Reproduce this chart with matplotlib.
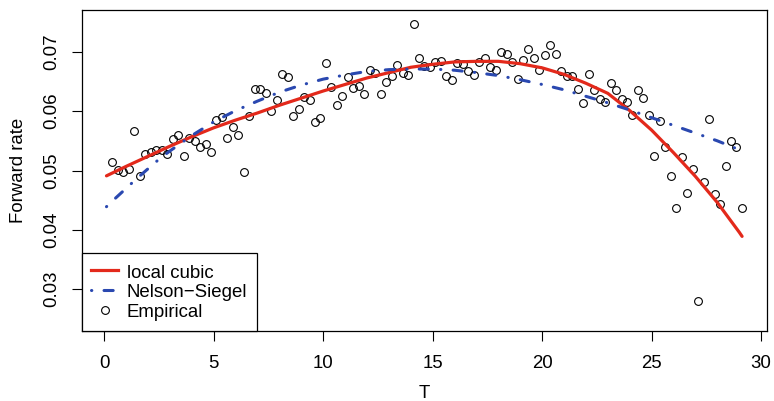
import numpy as np
import matplotlib
matplotlib.use("Agg")
import matplotlib.pyplot as plt
from matplotlib.lines import Line2D

plt.rcParams['font.family'] = ['Liberation Sans', 'DejaVu Sans']

# maturities of the empirical forward rates
T = [0.375, 0.625, 0.875, 1.125, 1.375, 1.625, 1.875, 2.125, 2.375, 2.625,
     2.875, 3.125, 3.375, 3.625, 3.875, 4.125, 4.375, 4.625, 4.875, 5.125,
     5.375, 5.625, 5.875, 6.125, 6.375, 6.625, 6.875, 7.125, 7.375, 7.625,
     7.875, 8.125, 8.375, 8.625, 8.875, 9.125, 9.375, 9.625, 9.875, 10.125,
     10.375, 10.625, 10.875, 11.125, 11.375, 11.625, 11.875, 12.125, 12.375, 12.625,
     12.875, 13.125, 13.375, 13.625, 13.875, 14.125, 14.375, 14.625, 14.875, 15.125,
     15.375, 15.625, 15.875, 16.125, 16.375, 16.625, 16.875, 17.125, 17.375, 17.625,
     17.875, 18.125, 18.375, 18.625, 18.875, 19.125, 19.375, 19.625, 19.875, 20.125,
     20.375, 20.625, 20.875, 21.125, 21.375, 21.625, 21.875, 22.125, 22.375, 22.625,
     22.875, 23.125, 23.375, 23.625, 23.875, 24.125, 24.375, 24.625, 24.875, 25.125,
     25.375, 25.625, 25.875, 26.125, 26.375, 26.625, 26.875, 27.125, 27.375, 27.625,
     27.875, 28.125, 28.375, 28.625, 28.875, 29.125]

empirical = [0.0514, 0.0501, 0.0497, 0.0503, 0.0566, 0.0490, 0.0528, 0.0531, 0.0535, 0.0535,
             0.0528, 0.0553, 0.0560, 0.0524, 0.0555, 0.0550, 0.0539, 0.0545, 0.0531, 0.0585,
             0.0590, 0.0555, 0.0574, 0.0560, 0.0498, 0.0592, 0.0638, 0.0638, 0.0630, 0.0601,
             0.0619, 0.0662, 0.0657, 0.0592, 0.0603, 0.0624, 0.0619, 0.0582, 0.0588, 0.0681,
             0.0641, 0.0610, 0.0625, 0.0657, 0.0639, 0.0642, 0.0629, 0.0670, 0.0665, 0.0629,
             0.0649, 0.0660, 0.0677, 0.0664, 0.0661, 0.0747, 0.0690, 0.0676, 0.0674, 0.0683,
             0.0684, 0.0659, 0.0653, 0.0681, 0.0680, 0.0667, 0.0661, 0.0683, 0.0689, 0.0675,
             0.0670, 0.0699, 0.0697, 0.0683, 0.0655, 0.0687, 0.0704, 0.0690, 0.0670, 0.0694,
             0.0711, 0.0697, 0.0668, 0.0660, 0.0659, 0.0638, 0.0614, 0.0663, 0.0635, 0.0620,
             0.0615, 0.0648, 0.0635, 0.0621, 0.0615, 0.0594, 0.0635, 0.0622, 0.0594, 0.0524,
             0.0584, 0.0540, 0.0491, 0.0437, 0.0523, 0.0462, 0.0502, 0.0280, 0.0480, 0.0587,
             0.0461, 0.0444, 0.0507, 0.0550, 0.0540, 0.0437]

# local cubic fit
T_lc = [0.1, 1, 2, 3, 4, 5, 6, 7, 8, 9, 10, 11, 12, 13, 14, 15, 16, 17, 18, 19,
        20, 21, 22, 23, 24, 25, 26, 27, 28, 29, 29.13]
local_cubic = [0.0491, 0.0507, 0.0524, 0.0541, 0.0557, 0.0572, 0.0585, 0.0597, 0.0610, 0.0622,
               0.0634, 0.0645, 0.0656, 0.0665, 0.0674, 0.0679, 0.0683, 0.0684, 0.0684, 0.0680,
               0.0673, 0.0662, 0.0647, 0.0630, 0.0601, 0.0568, 0.0530, 0.0490, 0.0446, 0.0396,
               0.0389]

# Nelson-Siegel fit
T_ns = [0.1, 0.5, 1, 1.5, 2, 2.5, 3, 4, 5, 6, 7, 8, 9, 10, 11, 12, 13, 14, 15, 16,
        17, 18, 19, 20, 21, 22, 23, 24, 25, 26, 27, 28, 29, 29.13]
nelson_siegel = [0.0439, 0.0453, 0.0470, 0.0487, 0.0503, 0.0519, 0.0533, 0.0559, 0.0582, 0.0601,
                 0.0617, 0.0632, 0.0644, 0.0654, 0.0661, 0.0667, 0.0670, 0.0671, 0.0671, 0.0669,
                 0.0665, 0.0660, 0.0653, 0.0645, 0.0636, 0.0625, 0.0614, 0.0602, 0.0589, 0.0576,
                 0.0563, 0.0550, 0.0535, 0.0533]

red = "#e3291b"
blue = "#2a48b0"
fs = 13.4

fig = plt.figure(figsize=(7.74, 4.01), dpi=100)
ax = fig.add_axes([0.1056, 0.1753, 0.991 - 0.1056, 0.9743 - 0.1753])

ax.plot(T, empirical, linestyle="none", marker="o", markersize=5.6,
        markerfacecolor="none", markeredgecolor="black", markeredgewidth=0.8)
ax.plot(T_lc, local_cubic, color=red, linewidth=2.3, solid_capstyle="round")
ax.plot(T_ns, nelson_siegel, color=blue, linewidth=2.2,
        linestyle=(0, (0.1, 4, 3, 4)), dash_capstyle="round")

ax.set_xlim(-1.03, 30.27)
ax.set_ylim(0.0230, 0.0770)
ax.set_xticks([0, 5, 10, 15, 20, 25, 30])
ax.set_yticks([0.03, 0.04, 0.05, 0.06, 0.07])
ax.set_yticklabels(["0.03", "0.04", "0.05", "0.06", "0.07"], rotation=90, va="center")
ax.tick_params(length=7, width=0.8, labelsize=fs)
ax.tick_params(axis="x", pad=10.5)
ax.tick_params(axis="y", pad=8.2)
for s in ax.spines.values():
    s.set_linewidth(0.9)

ax.set_xlabel("T", fontsize=fs, labelpad=9.5)
ax.set_ylabel("Forward rate", fontsize=fs, labelpad=12)

handles = [
    Line2D([], [], color=red, linewidth=2.3),
    Line2D([], [], color=blue, linewidth=2.2, linestyle=(0, (0.1, 4, 3, 4)), dash_capstyle="round"),
    Line2D([], [], linestyle="none", marker="o", markersize=5.6,
           markerfacecolor="none", markeredgecolor="black", markeredgewidth=0.8),
]
leg = ax.legend(handles, ["local cubic", "Nelson\u2212Siegel", "Empirical"],
                loc="lower left", bbox_to_anchor=(0, 0), borderaxespad=0,
                fancybox=False, framealpha=1, edgecolor="black", fontsize=fs,
                handlelength=1.45, handleheight=1.05, handletextpad=0.48,
                labelspacing=0.05, borderpad=0.5)
leg.get_frame().set_linewidth(0.9)

fig.savefig("out.png", dpi=100)
